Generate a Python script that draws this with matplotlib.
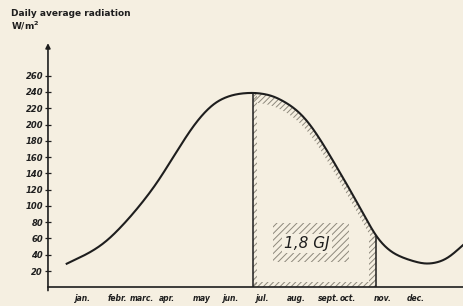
import numpy as np
import matplotlib.pyplot as plt
from matplotlib.patches import Rectangle

# ── Data (x in months, jan = 1) ──────────────────────────────────────────────
months = ['jan.', 'febr.', 'marc.', 'apr.', 'may', 'jun.', 'jul.', 'aug.',
          'sept.', 'oct.', 'nov.', 'dec.']
month_pos = [1.01, 2.14, 2.95, 3.78, 4.94, 5.90, 6.96, 8.05, 9.15, 9.78,
             10.93, 12.03]

curve_x = [0.46, 1.23, 1.78, 2.33, 2.89, 3.44, 3.99, 4.54, 4.98, 5.43, 5.98,
           6.64, 7.20, 7.52, 7.85, 8.19, 8.52, 8.85, 9.18, 9.51, 9.84, 10.17,
           10.50, 10.72, 11.06, 11.43, 12.05, 12.49, 13.04, 13.62]
curve_y = [29, 43, 57, 77, 101, 128, 160, 192, 213, 228, 236.5,
           239, 236, 231, 224, 214, 200, 182, 162, 141, 120, 98,
           76, 62, 48, 39, 31, 29, 35, 53]

shade_start, shade_end = 6.64, 10.72
yticks = list(range(20, 261, 20))
energy_label = '1,8 GJ'


def catmull_rom(x, y, n=30):
    """Smooth curve through the read points."""
    x = np.asarray(x, float)
    y = np.asarray(y, float)
    px = np.concatenate([[2 * x[0] - x[1]], x, [2 * x[-1] - x[-2]]])
    py = np.concatenate([[2 * y[0] - y[1]], y, [2 * y[-1] - y[-2]]])
    outx, outy = [], []
    t = np.linspace(0, 1, n, endpoint=False)
    for i in range(1, len(px) - 2):
        for arr, out in ((px, outx), (py, outy)):
            p0, p1, p2, p3 = arr[i - 1], arr[i], arr[i + 1], arr[i + 2]
            out.extend(0.5 * (2 * p1 + (-p0 + p2) * t
                              + (2 * p0 - 5 * p1 + 4 * p2 - p3) * t ** 2
                              + (-p0 + 3 * p1 - 3 * p2 + p3) * t ** 3))
    outx.append(x[-1])
    outy.append(y[-1])
    # resample evenly and soften small kinks from reading errors
    xs = np.linspace(x[0], x[-1], 600)
    ys = np.interp(xs, outx, outy)
    sig = 0.16 / (xs[1] - xs[0])
    h = int(3 * sig)
    k = np.exp(-0.5 * (np.arange(-h, h + 1) / sig) ** 2)
    k /= k.sum()
    ys = np.convolve(np.pad(ys, h, mode='reflect', reflect_type='odd'), k,
                     mode='valid')
    return xs, ys


# ── Plot ─────────────────────────────────────────────────────────────────────
bg = '#f5efe1'
ink = '#1e1e1e'
hatch_c = '#8d887c'
plt.rcParams['hatch.linewidth'] = 0.7

fig = plt.figure(figsize=(4.64, 3.06), dpi=100, facecolor=bg)
ax = fig.add_axes([0.1034, 0.061, 0.8966, 0.798], facecolor=bg)

xs, ys = catmull_rom(curve_x, curve_y)
ax.plot(xs, ys, color=ink, lw=1.5, zorder=4)

# hatched bands inside the shaded area
hkw = dict(facecolor='none', edgecolor=hatch_c, linewidth=0, zorder=2)
m = (xs >= shade_start) & (xs <= shade_end)
ax.fill_between(xs[m], np.maximum(ys[m] - 12, 0), ys[m], hatch='//////', **hkw)
ax.fill_between([shade_start, shade_end], 0, 7, hatch='//////', **hkw)
ax.fill_between([shade_end - 0.25, shade_end], 0, 62, hatch='//////', **hkw)
ax.fill_between([shade_start, shade_start + 0.12], 0, 238, hatch='/////', **hkw)
ax.add_patch(Rectangle((7.3, 31), 2.5, 48, hatch='/////', **hkw))

y_end = np.interp(shade_end, xs, ys)
y_start = np.interp(shade_start, xs, ys)
ax.plot([shade_start, shade_start], [0, y_start], color=ink, lw=1.1, zorder=3)
ax.plot([shade_end, shade_end], [0, y_end], color=ink, lw=1.1, zorder=3)

ax.text(8.42, 54, energy_label, ha='center', va='center', fontsize=11,
        style='italic', color=ink, zorder=5,
        bbox=dict(boxstyle='square,pad=0.15', fc=bg, ec='none'))

ax.set_xlim(-0.16, 13.62)
ax.set_ylim(0, 300)
for s in ['top', 'right', 'left']:
    ax.spines[s].set_visible(False)
ax.spines['bottom'].set_color(ink)
ax.spines['bottom'].set_linewidth(1.2)

# y axis with arrow
ax.annotate('', xy=(-0.16, 300), xytext=(-0.16, -4),
            arrowprops=dict(arrowstyle='-|>', color=ink, lw=1.2,
                            mutation_scale=7, shrinkA=0, shrinkB=0),
            annotation_clip=False)

ax.set_yticks(yticks)
ax.set_yticklabels([str(v) for v in yticks], fontsize=6, style='italic',
                   fontweight='bold', color=ink)
ax.tick_params(axis='y', direction='inout', length=5, width=0.9, pad=1,
               colors=ink)
ax.set_xticks(month_pos)
ax.set_xticklabels(months, fontsize=5.5, style='italic', fontweight='bold',
                   color=ink)
ax.tick_params(axis='x', length=0, pad=5)

fig.text(0.024, 0.955, 'Daily average radiation', fontsize=6.5,
         fontweight='bold', color=ink, va='center')
fig.text(0.024, 0.915, 'W/m$^\\mathbf{2}$', fontsize=6.5, fontweight='bold',
         color=ink, va='center')

fig.savefig('out.png', dpi=100, facecolor=bg)
